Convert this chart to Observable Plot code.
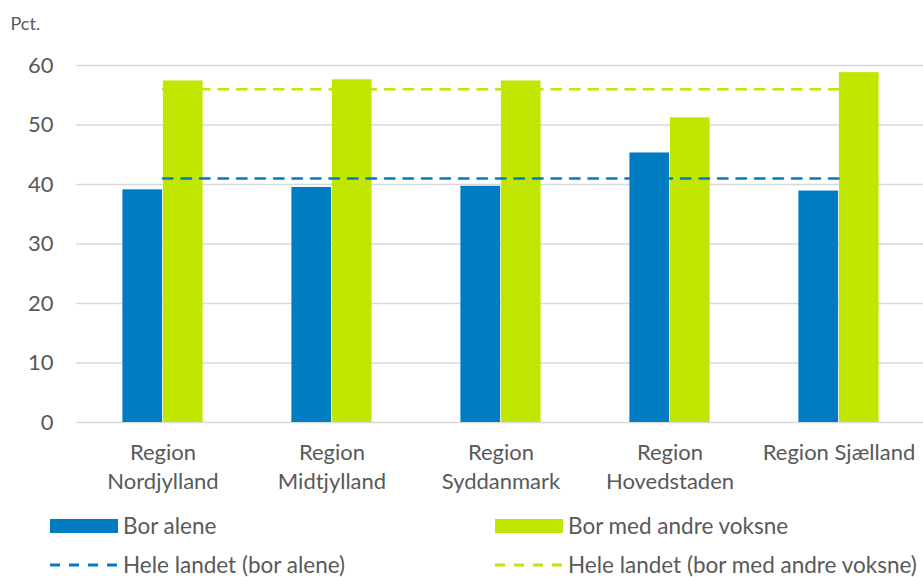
<!DOCTYPE html>
<html>
<head>
<meta charset="utf-8">
<script src="https://cdn.jsdelivr.net/npm/d3@7"></script>
<script src="https://cdn.jsdelivr.net/npm/@observablehq/plot@0.6"></script>
<style>
  body { margin: 0; background: #fff; font-family: Lato, "Open Sans", sans-serif; color: #595959; }
  #wrap { width: 923px; height: 577px; position: relative; overflow: hidden; }
  #chart svg { display: block; }
  .legend-item { position: absolute; display: flex; align-items: center; font-size: 22.5px; line-height: 24px; white-space: nowrap; }
  .legend-item svg { display: block; margin-right: 5px; }
</style>
</head>
<body>
<div id="wrap">
  <div id="chart"></div>
  <div id="legend"></div>
</div>
<script>
// Share of people by region, living alone vs. with other adults (pct.)
const regions = ["Region Nordjylland", "Region Midtjylland", "Region Syddanmark", "Region Hovedstaden", "Region Sjælland"];
const regionTickLabels = ["Region\nNordjylland", "Region\nMidtjylland", "Region\nSyddanmark", "Region\nHovedstaden", "Region Sjælland"];
const borAlene = [39.1, 39.5, 39.7, 45.3, 38.9];
const borMedAndreVoksne = [57.4, 57.6, 57.4, 51.2, 58.8];
const heleLandetBorAlene = 41.0;
const heleLandetBorMedAndre = 56.0;
const yTicks = [0, 10, 20, 30, 40, 50, 60];
const yUnit = "Pct.";
const seriesNames = ["Bor alene", "Bor med andre voksne"];
const nationalNames = ["Hele landet (bor alene)", "Hele landet (bor med andre voksne)"];
const seriesColors = ["#007CC3", "#C1E600"];

const width = 923, height = 500;
const marginLeft = 76, marginRight = -2, marginTop = 65, marginBottom = 78;
const barWidth = 40.5;
const step = (width - marginLeft - marginRight) / regions.length;

const bars = regions.flatMap((r, i) => [
  {region: r, series: seriesNames[0], value: borAlene[i]},
  {region: r, series: seriesNames[1], value: borMedAndreVoksne[i]}
]);
const national = regions.flatMap(r => [
  {region: r, series: nationalNames[0], value: heleLandetBorAlene},
  {region: r, series: nationalNames[1], value: heleLandetBorMedAndre}
]);
const labelOf = new Map(regions.map((r, i) => [r, regionTickLabels[i]]));

const chart = Plot.plot({
  width, height, marginLeft, marginRight, marginTop, marginBottom,
  style: {fontFamily: "Lato, 'Open Sans', sans-serif", color: "#595959", background: "#fff", overflow: "visible"},
  x: {domain: regions, padding: 0, label: null},
  y: {domain: [0, 60], label: null},
  marks: [
    Plot.ruleY(yTicks, {stroke: "#d9d9d9", strokeWidth: 1.5}),
    // living alone: left half of each group
    Plot.barY(bars.filter(d => d.series === seriesNames[0]), {
      x: "region", y: "value", fill: seriesColors[0],
      insetLeft: step / 2 - barWidth, insetRight: step / 2
    }),
    // living with other adults: right half of each group
    Plot.barY(bars.filter(d => d.series === seriesNames[1]), {
      x: "region", y: "value", fill: seriesColors[1],
      insetLeft: step / 2, insetRight: step / 2 - barWidth
    }),
    Plot.lineY(national, {
      x: "region", y: "value", z: "series",
      stroke: d => d.series === nationalNames[0] ? seriesColors[0] : seriesColors[1],
      strokeWidth: 2.6, strokeDasharray: "9.5,9"
    }),
    Plot.axisY({
      ticks: yTicks, tickSize: 0, tickPadding: 23, fontSize: 22, label: null,
      fill: "#595959"
    }),
    Plot.axisX({
      tickSize: 0, tickPadding: 17, fontSize: 22, label: null, lineHeight: 1.32,
      tickFormat: d => labelOf.get(d), fill: "#595959"
    }),
    // unit label in the top-left corner
    Plot.text([yUnit], {
      frameAnchor: "top-left", text: d => d, textAnchor: "start", lineAnchor: "middle",
      dx: 10 - marginLeft, dy: 24 - marginTop, fontSize: 18, fill: "#595959"
    })
  ]
});
document.getElementById("chart").appendChild(chart);

// Legend below the chart
const legendItems = [
  {name: seriesNames[0], color: seriesColors[0], kind: "box", left: 50, top: 526},
  {name: seriesNames[1], color: seriesColors[1], kind: "box", left: 495, top: 526},
  {name: nationalNames[0], color: seriesColors[0], kind: "dash", left: 50, top: 565},
  {name: nationalNames[1], color: seriesColors[1], kind: "dash", left: 495, top: 565}
];
const legend = document.getElementById("legend");
for (const it of legendItems) {
  const div = document.createElement("div");
  div.className = "legend-item";
  div.style.left = it.left + "px";
  div.style.top = (it.top - 12) + "px";
  div.style.height = "24px";
  const sw = it.kind === "box"
    ? `<svg width="68" height="18"><rect x="0" y="2" width="68" height="14" fill="${it.color}"/></svg>`
    : `<svg width="68" height="18"><line x1="0" x2="68" y1="9" y2="9" stroke="${it.color}" stroke-width="3" stroke-dasharray="10,9"/></svg>`;
  div.innerHTML = sw + `<span>${it.name}</span>`;
  legend.appendChild(div);
}
</script>
</body>
</html>
